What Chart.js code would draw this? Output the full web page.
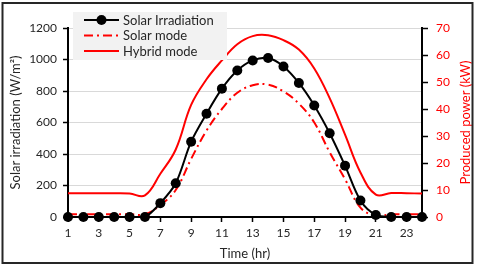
<!DOCTYPE html>
<html><head><meta charset="utf-8">
<script src="https://cdn.jsdelivr.net/npm/chart.js@4.4.0/dist/chart.umd.min.js"></script>
<style>html,body{margin:0;padding:0;background:#fff;overflow:hidden}#wrap{width:480px;height:269px;position:relative}</style>
</head><body><div id="wrap"><canvas id="c" width="480" height="269"></canvas></div>
<script>
const hours = [1,2,3,4,5,6,7,8,9,10,11,12,13,14,15,16,17,18,19,20,21,22,23,24];
const xTickLabels = [1,3,5,7,9,11,13,15,17,19,21,23];
const irradiation = [0,0,0,0,0,0,88,214,478,656,815,930,994,1009,956,851,708,532,326,105,13,0,0,0];
const solarMode = [1,1,1,1,1,1,4.5,10,21.5,32,40,46,48.8,49,46.5,42,35,24,14,3.5,0.5,1,1,1];
const hybridMode = [8.8,8.8,8.8,8.8,8.7,8.0,16,25,41.5,51,58,64,67,67.3,65.5,62,55,44,30.5,16.5,8.3,8.9,8.8,8.7];
const leftTicks = [0,200,400,600,800,1000,1200];
const rightTicks = [0,10,20,30,40,50,60,70];
const seriesNames = ['Solar Irradiation','Solar mode','Hybrid mode'];
const xTitle = 'Time (hr)';
const leftTitle = 'Solar irradiation (W/m²)';
const rightTitle = 'Produced power (kW)';

const RED = '#ff0000';
const FONT = 'Lato';
const pts = arr => hours.map((h,i)=>({x:h,y:arr[i]}));

const decor = {
  id:'decor',
  afterDraw(chart){
    const ctx = chart.ctx, a = chart.chartArea;
    ctx.save();
    ctx.fillStyle = '#f2f2f2';
    ctx.fillRect(73,12,154,48);
    const ds = chart.data.datasets;
    const rowsY = [20,35.5,51];
    ds.forEach((d,i)=>{
      const y = rowsY[i];
      ctx.strokeStyle = d.borderColor;
      ctx.lineWidth = d.borderWidth;
      ctx.setLineDash(d.borderDash || []);
      ctx.beginPath(); ctx.moveTo(84,y); ctx.lineTo(119,y); ctx.stroke();
      ctx.setLineDash([]);
      if (d.pointRadius > 0) {
        ctx.fillStyle = d.pointBackgroundColor;
        ctx.beginPath(); ctx.arc(101.5,y,d.pointRadius,0,Math.PI*2); ctx.fill();
      }
      ctx.fillStyle = '#262626';
      ctx.font = '13px ' + FONT;
      ctx.textAlign = 'left'; ctx.textBaseline = 'middle';
      ctx.fillText(d.label,123,y+0.5);
    });
    ctx.save();
    ctx.translate(466,(a.top+a.bottom)/2);
    ctx.rotate(-Math.PI/2);
    ctx.fillStyle = RED; ctx.font = '13px ' + FONT;
    ctx.textAlign='center'; ctx.textBaseline='middle';
    ctx.fillText(rightTitle,0,0);
    ctx.restore();
    ctx.strokeStyle = '#262626'; ctx.lineWidth = 2;
    ctx.strokeRect(2.5,3,470,260);
    ctx.restore();
  }
};

new Chart(document.getElementById('c'), {
  type:'line',
  data:{datasets:[
    {label:seriesNames[0], data:pts(irradiation), yAxisID:'y', borderColor:'#000', borderWidth:2,
     pointRadius:5, pointBackgroundColor:'#000', pointBorderColor:'#000', pointBorderWidth:0,
     tension:0.3, clip:false},
    {label:seriesNames[1], data:pts(solarMode), yAxisID:'y1', borderColor:RED, borderWidth:2,
     borderDash:[9,4,2,4], pointRadius:0, tension:0.4},
    {label:seriesNames[2], data:pts(hybridMode), yAxisID:'y1', borderColor:RED, borderWidth:2,
     pointRadius:0, tension:0.4}
  ]},
  options:{
    responsive:false, animation:false, devicePixelRatio:1,
    layout:{padding:{top:28,left:0,right:0,bottom:0}},
    plugins:{legend:{display:false}, tooltip:{enabled:false}},
    scales:{
      x:{type:'linear', min:1, max:24,
        afterBuildTicks:s=>{s.ticks = xTickLabels.map(v=>({value:v}));},
        afterFit:s=>{s.height=52;},
        ticks:{autoSkip:false, maxRotation:0, padding:4, color:'#262626', font:{family:FONT,size:12}, callback:v=>String(v)},
        grid:{drawOnChartArea:false, drawTicks:true, tickLength:5, tickColor:'#000', tickWidth:1.5},
        border:{color:'#000', width:2},
        title:{display:true, text:xTitle, color:'#262626', font:{family:FONT,size:13}, padding:{top:0,bottom:7}}
      },
      y:{position:'left', min:0, max:1200,
        afterBuildTicks:s=>{s.ticks = leftTicks.map(v=>({value:v}));},
        afterFit:s=>{s.width=68;},
        ticks:{padding:6, color:'#262626', font:{family:FONT,size:12}, callback:v=>String(v)},
        grid:{color:'#d9d9d9', lineWidth:1, tickLength:5, tickColor:'#000', tickWidth:1.5},
        border:{color:'#000', width:2},
        title:{display:true, text:leftTitle, color:'#262626', font:{family:FONT,size:13}, padding:{top:8,bottom:0}}
      },
      y1:{position:'right', min:0, max:70,
        afterBuildTicks:s=>{s.ticks = rightTicks.map(v=>({value:v}));},
        afterFit:s=>{s.width=58;},
        ticks:{padding:8, color:RED, font:{family:FONT,size:12}, callback:v=>String(v)},
        grid:{drawOnChartArea:false, tickLength:6, tickColor:'#000', tickWidth:1.5},
        border:{color:'#000', width:2}
      }
    }
  },
  plugins:[decor]
});
</script></body></html>
